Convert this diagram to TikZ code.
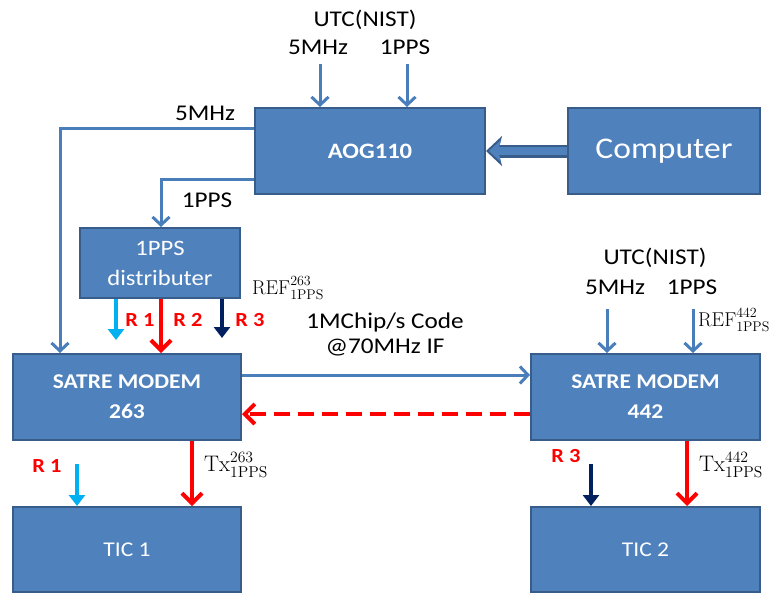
\documentclass[tikz,border=0pt]{standalone}
\usepackage{fix-cm}
\usepackage[no-math]{fontspec}
\setmainfont{Carlito}[FakeStretch=1.12]
\usetikzlibrary{arrows.meta,positioning,calc}

\definecolor{boxblue}{HTML}{4F81BD}
\definecolor{boxedge}{HTML}{385D8A}
\definecolor{sigblue}{HTML}{4A7EBB}
\definecolor{rone}{HTML}{00B0F0}
\definecolor{rtwo}{HTML}{FF0000}
\definecolor{rthree}{HTML}{002060}

\tikzset{
  block/.style={draw=boxedge, fill=boxblue, line width=2pt, text=white, align=center,
    inner sep=0pt, font=\fontsize{21}{30}\selectfont},
  lbl/.style={font=\fontsize{22.5}{25}\selectfont, align=center, inner sep=0pt},
  rlbl/.style={font=\fontsize{20}{24}\selectfont\bfseries, text=rtwo, inner sep=0pt},
  mlbl/.style={font=\fontsize{20}{24}\selectfont, inner sep=0pt},
  sig/.style={draw=sigblue, line width=3pt, -{Straight Barb[length=8pt,width=17pt]}},
  feed/.style={line width=4pt, -{Straight Barb[length=10pt,width=20pt]}},
  tap/.style={line width=4pt, -{Triangle[length=11pt,width=16pt]}},
}

\begin{document}
\begin{tikzpicture}[x=1pt,y=-1pt]
  \useasboundingbox (0,0) rectangle (770,594);

  % boxes
  \node[block, minimum width=230pt, minimum height=86pt, font=\fontsize{22}{26}\selectfont\bfseries] (aog) at (370,151) {AOG110};
  \node[block, minimum width=192pt, minimum height=86pt, font=\fontsize{30}{34}\selectfont] (comp) at (664,151) {Computer};
  \node[block, minimum width=160pt, minimum height=70pt, font=\fontsize{22}{30}\selectfont] (dist) at (160,263) {1PPS\\distributer};
  \node[block, minimum width=228pt, minimum height=86pt, font=\fontsize{21}{30}\selectfont\bfseries] (sat263) at (127,397) {SATRE MODEM\\263};
  \node[block, minimum width=229pt, minimum height=86pt, font=\fontsize{21}{30}\selectfont\bfseries] (sat442) at (645.5,397) {SATRE MODEM\\442};
  \node[block, minimum width=228pt, minimum height=85pt] (tic1) at (127,549.5) {TIC 1};
  \node[block, minimum width=229pt, minimum height=85pt] (tic2) at (645.5,549.5) {TIC 2};

  % texts
  \node[lbl] (utcA) at (365,20) {UTC(NIST)};
  \node[lbl] (fiveA) at (318,47) {5MHz};
  \node[lbl] (ppsA) at (405,47) {1PPS};
  \node[lbl] (fiveF) at (205,113) {5MHz};
  \node[lbl] (ppsF) at (207,200) {1PPS};
  \node[rlbl] (rA) at (140,320) {R 1};
  \node[rlbl] (rB) at (188,320) {R 2};
  \node[rlbl] (rC) at (250,320) {R 3};
  \node[mlbl] (refA) at (288,288) {$\mathrm{REF}^{263}_{\mathrm{1PPS}}$};
  \node[lbl] (chip) at (385,334) {1MChip/s Code\\@70MHz IF};
  \node[lbl] (utcB) at (655,258) {UTC(NIST)};
  \node[lbl] (fiveB) at (615,287) {5MHz};
  \node[lbl] (ppsB) at (692,287) {1PPS};
  \node[mlbl] (refB) at (734,320) {$\mathrm{REF}^{442}_{\mathrm{1PPS}}$};
  \node[rlbl] (rD) at (47,466) {R 1};
  \node[rlbl] (rE) at (566,456) {R 3};
  \node[mlbl, font=\fontsize{22.5}{24}\selectfont] (txA) at (236,465) {$\mathrm{Tx}^{263}_{\mathrm{1PPS}}$};
  \node[mlbl, font=\fontsize{22.5}{24}\selectfont] (txB) at (731,465) {$\mathrm{Tx}^{442}_{\mathrm{1PPS}}$};

  % free ends
  \coordinate (inA) at (320,64);
  \coordinate (inB) at (407,64);
  \coordinate (inC) at (607,309);
  \coordinate (inD) at (693,309);
  \coordinate (f5) at (60,128);
  \coordinate (f1) at (161,179);
  \coordinate (dA) at (116,340);
  \coordinate (dB) at (161,340);
  \coordinate (dC) at (222,338);
  \coordinate (mc) at (385,375);
  \coordinate (rt) at (385,414);
  \coordinate (tA) at (77,464);
  \coordinate (tB) at (192,464);
  \coordinate (tC) at (591,464);
  \coordinate (tD) at (687,464);

  % blue signals
  \draw[sig] (inA) -- (inA |- aog.north);
  \draw[sig] (inB) -- (inB |- aog.north);
  \draw[sig] (inC) -- (inC |- sat442.north);
  \draw[sig] (inD) -- (inD |- sat442.north);
  \draw[sig] (aog.west |- f5) -| (sat263.north -| f5);
  \draw[sig] (aog.west |- f1) -| (dist.north -| f1);
  \draw[sig] (sat263.east |- mc) -- (sat442.west |- mc);

  % computer link
  \draw[boxedge, line width=13pt, -{Stealth[length=16pt,width=30pt,inset=4pt]}] (comp.west) -- (aog.east);
  \draw[boxblue, line width=8pt, shorten >=3pt, -{Stealth[length=12pt,width=22pt,inset=3pt]}] (comp.west) -- (aog.east);

  % 1PPS taps
  \draw[tap, rone] (dist.south -| dA) -- (dA);
  \draw[feed, rtwo] (dist.south -| dB) -- (sat263.north -| dB);
  \draw[tap, rthree] (dist.south -| dC) -- (dC);
  \draw[feed, rtwo, dash pattern=on 16pt off 8pt] (sat442.west |- rt) -- (sat263.east |- rt);
  \draw[tap, rone] (tA) -- (tic1.north -| tA);
  \draw[feed, rtwo] (sat263.south -| tB) -- (tic1.north -| tB);
  \draw[tap, rthree] (tC) -- (tic2.north -| tC);
  \draw[feed, rtwo] (sat442.south -| tD) -- (tic2.north -| tD);
\end{tikzpicture}
\end{document}
